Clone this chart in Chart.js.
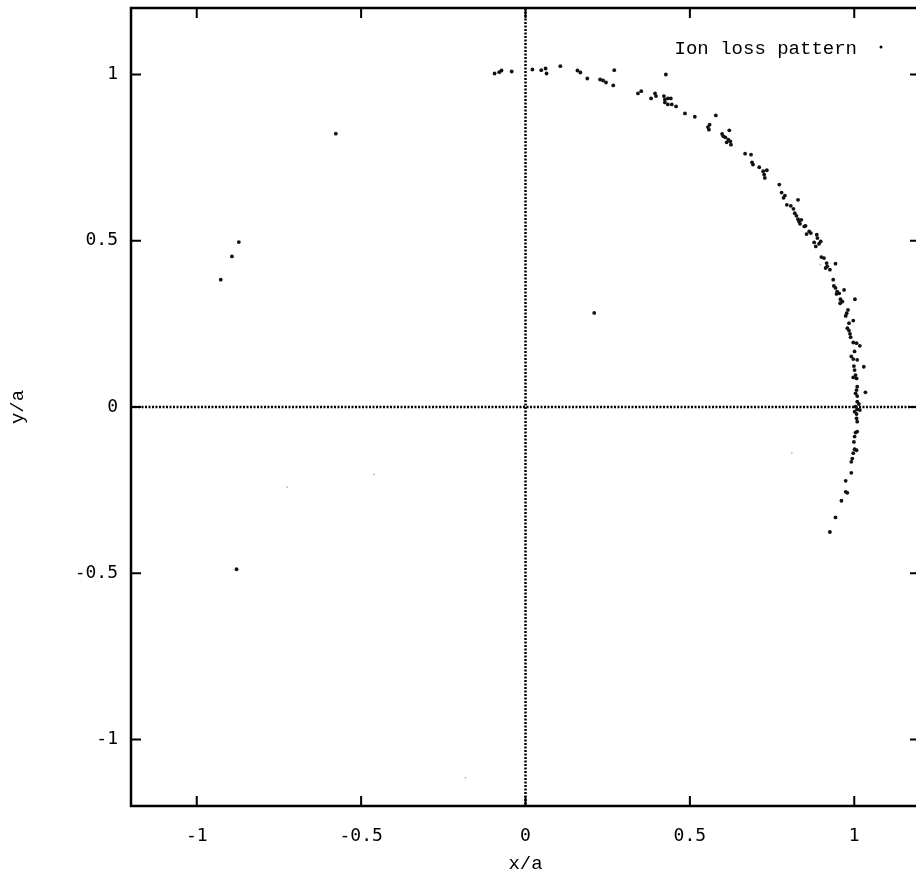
<meta charset="utf-8">
<script src="https://cdn.jsdelivr.net/npm/chart.js@4.4.1/dist/chart.umd.min.js"></script>
<style>
  html, body { margin: 0; padding: 0; background: #fff; overflow: hidden; }
  #wrap { width: 924px; height: 879px; }
</style>
<div id="wrap"><canvas id="chart" width="924" height="879"></canvas></div>
<script>
// ion loss positions (x/a, y/a)
var lossX = [
  -0.094,-0.080,-0.073,-0.042,0.021,0.048,0.061,0.064,0.106,0.158,0.167,0.188,0.227,0.236,0.245,0.270,0.267,0.427,
  0.342,0.352,0.382,0.394,0.397,0.421,0.424,0.433,0.442,0.424,0.433,0.445,0.458,0.485,0.515,0.579,
  0.560,0.555,0.558,0.620,0.598,0.602,0.608,0.617,0.623,0.612,0.625,0.668,0.686,
  0.689,0.692,0.711,0.723,0.734,0.726,0.728,0.772,0.779,0.789,0.785,0.795,0.807,0.829,
  0.815,0.819,0.824,0.829,0.832,0.839,0.835,0.848,0.852,0.863,0.868,0.855,0.886,0.888,0.898,0.893,0.878,0.883,
  0.900,0.908,0.916,0.918,0.913,0.926,0.943,
  0.936,0.938,0.943,0.948,0.954,0.969,0.946,0.958,0.964,0.957,1.002,0.981,0.977,0.974,
  0.997,0.984,0.979,0.984,0.987,0.989,0.997,1.007,1.017,1.001,0.991,0.997,1.009,
  0.999,1.001,1.004,0.997,1.007,1.029,1.009,1.007,1.004,1.009,1.034,
  1.009,1.014,1.004,1.009,1.017,1.001,1.007,1.007,1.009,1.009,1.004,1.001,0.999,
  1.001,1.007,0.997,0.994,0.991,0.991,0.974,0.974,0.979,0.961,0.943,0.926,
  -0.577,-0.872,-0.893,-0.927,-0.879,0.209
];
var lossY = [
  1.003,1.007,1.012,1.009,1.015,1.013,1.018,1.003,1.025,1.012,1.006,0.988,0.985,0.982,0.976,1.013,0.967,1.000,
  0.943,0.950,0.928,0.943,0.935,0.935,0.925,0.928,0.928,0.916,0.910,0.910,0.904,0.883,0.873,0.877,
  0.849,0.842,0.834,0.832,0.821,0.814,0.811,0.804,0.799,0.796,0.789,0.762,0.759,
  0.736,0.729,0.721,0.709,0.712,0.699,0.689,0.669,0.645,0.636,0.629,0.608,0.605,0.623,
  0.596,0.583,0.575,0.565,0.558,0.563,0.551,0.543,0.545,0.528,0.523,0.520,0.518,0.508,0.498,0.491,0.495,0.483,
  0.451,0.448,0.433,0.423,0.418,0.413,0.431,
  0.383,0.364,0.358,0.347,0.342,0.352,0.340,0.324,0.317,0.312,0.324,0.292,0.282,0.274,
  0.260,0.252,0.237,0.230,0.220,0.210,0.194,0.192,0.184,0.167,0.152,0.144,0.142,
  0.123,0.111,0.096,0.089,0.086,0.121,0.061,0.051,0.041,0.033,0.044,
  0.016,0.009,0.001,-0.007,-0.009,-0.014,-0.021,-0.034,-0.044,-0.074,-0.077,-0.089,-0.105,
  -0.127,-0.130,-0.139,-0.155,-0.165,-0.198,-0.222,-0.255,-0.258,-0.282,-0.332,-0.376,
  0.822,0.496,0.453,0.383,-0.488,0.283
];
// very faint specks
var faintX = [-0.725, -0.461, 0.810, -0.183, 0.897];
var faintY = [-0.241, -0.203, -0.138, -1.115, 0.428];

var xTicks = [-1, -0.5, 0, 0.5, 1];
var yTicks = [-1, -0.5, 0, 0.5, 1];
var legendLabel = 'Ion loss pattern';

function toPoints(xs, ys) {
  return xs.map(function(x, i) { return {x: x, y: ys[i]}; });
}

var tickFont = {family: '"DejaVu Sans Mono", monospace', size: 18};
var titleFont = {family: '"Liberation Mono", monospace', size: 19};

// gnuplot style frame: zero axes, border, inward ticks, key
var framePlugin = {
  id: 'frame',
  beforeDatasetsDraw: function(chart) {
    var ctx = chart.ctx, a = chart.chartArea;
    var x0 = chart.scales.x.getPixelForValue(0);
    var y0 = chart.scales.y.getPixelForValue(0);
    ctx.save();
    ctx.strokeStyle = '#000';
    ctx.lineWidth = 2.5;
    ctx.setLineDash([2, 1.5]);
    ctx.beginPath();
    ctx.moveTo(x0, a.top); ctx.lineTo(x0, a.bottom);
    ctx.moveTo(a.left, y0); ctx.lineTo(a.right, y0);
    ctx.stroke();
    ctx.restore();
  },
  afterDatasetsDraw: function(chart) {
    var ctx = chart.ctx, a = chart.chartArea;
    var sx = chart.scales.x, sy = chart.scales.y;
    ctx.save();
    ctx.strokeStyle = '#000';
    ctx.lineWidth = 2.5;
    ctx.strokeRect(a.left, a.top, a.right - a.left, a.bottom - a.top);
    ctx.lineWidth = 2;
    ctx.beginPath();
    xTicks.forEach(function(v) {
      var p = sx.getPixelForValue(v);
      ctx.moveTo(p, a.bottom); ctx.lineTo(p, a.bottom - 10);
      ctx.moveTo(p, a.top); ctx.lineTo(p, a.top + 10);
    });
    yTicks.forEach(function(v) {
      var p = sy.getPixelForValue(v);
      ctx.moveTo(a.left, p); ctx.lineTo(a.left + 10, p);
      ctx.moveTo(a.right, p); ctx.lineTo(a.right - 10, p);
    });
    ctx.stroke();

    // key
    ctx.fillStyle = '#000';
    ctx.font = titleFont.size + 'px ' + titleFont.family;
    ctx.textAlign = 'right';
    ctx.textBaseline = 'middle';
    ctx.fillText(legendLabel, a.right - 63, a.top + 41);
    ctx.beginPath();
    ctx.arc(a.right - 39, a.top + 39, 1.5, 0, Math.PI * 2);
    ctx.fill();
    ctx.restore();
  }
};

new Chart(document.getElementById('chart'), {
  type: 'scatter',
  data: {
    datasets: [
      {
        label: legendLabel,
        data: toPoints(lossX, lossY),
        pointRadius: 1.9,
        pointBackgroundColor: '#111',
        pointBorderWidth: 0
      },
      {
        label: 'faint',
        data: toPoints(faintX, faintY),
        pointRadius: 0.9,
        pointBackgroundColor: '#bbb',
        pointBorderWidth: 0
      }
    ]
  },
  options: {
    responsive: false,
    animation: false,
    devicePixelRatio: 1,
    layout: {padding: {top: 8, left: 3, right: 1, bottom: 0}},
    plugins: {legend: {display: false}, tooltip: {enabled: false}},
    scales: {
      x: {
        type: 'linear',
        min: -1.2,
        max: 1.2,
        afterBuildTicks: function(s) { s.ticks = xTicks.map(function(v) { return {value: v}; }); },
        afterFit: function(s) { s.height = 73; s.paddingLeft = 0; s.paddingRight = 0; },
        ticks: {font: tickFont, color: '#000', padding: 20, callback: function(v) { return String(v); }},
        grid: {display: false, drawTicks: false},
        border: {display: false},
        title: {display: true, text: 'x/a', font: titleFont, color: '#000', padding: {top: 2, bottom: 4}}
      },
      y: {
        type: 'linear',
        min: -1.2,
        max: 1.2,
        afterBuildTicks: function(s) { s.ticks = yTicks.map(function(v) { return {value: v}; }); },
        afterFit: function(s) { s.width = 128; s.paddingTop = 0; s.paddingBottom = 0; },
        ticks: {font: tickFont, color: '#000', padding: 13, callback: function(v) { return String(v); }},
        grid: {display: false, drawTicks: false},
        border: {display: false},
        title: {display: true, text: 'y/a', font: titleFont, color: '#000', padding: {top: 4, bottom: 4}}
      }
    }
  },
  plugins: [framePlugin]
});
</script>
